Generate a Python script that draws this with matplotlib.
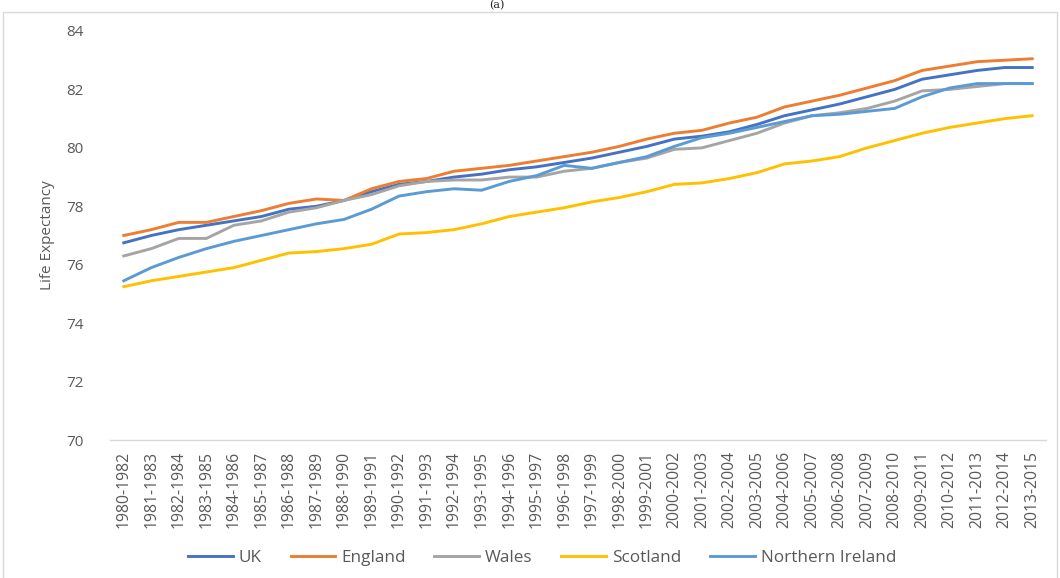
import matplotlib
matplotlib.use("Agg")
import matplotlib.pyplot as plt
from matplotlib.patches import Rectangle

periods = [f"{y}-{y+2}" for y in range(1980, 2014)]

uk = [76.75, 77.0, 77.2, 77.35, 77.5, 77.65, 77.9, 78.0, 78.2, 78.5,
      78.75, 78.85, 79.0, 79.1, 79.25, 79.35, 79.5, 79.65, 79.85, 80.05,
      80.3, 80.4, 80.55, 80.8, 81.1, 81.3, 81.5, 81.75, 82.0, 82.35,
      82.5, 82.65, 82.75, 82.75]
england = [77.0, 77.2, 77.45, 77.45, 77.65, 77.85, 78.1, 78.25, 78.2, 78.6,
           78.85, 78.95, 79.2, 79.3, 79.4, 79.55, 79.7, 79.85, 80.05, 80.3,
           80.5, 80.6, 80.85, 81.05, 81.4, 81.6, 81.8, 82.05, 82.3, 82.65,
           82.8, 82.95, 83.0, 83.05]
wales = [76.3, 76.55, 76.9, 76.9, 77.35, 77.5, 77.8, 77.95, 78.2, 78.4,
         78.7, 78.85, 78.9, 78.9, 79.0, 79.0, 79.2, 79.3, 79.5, 79.65,
         79.95, 80.0, 80.25, 80.5, 80.85, 81.1, 81.2, 81.35, 81.6, 81.95,
         82.0, 82.1, 82.2, 82.2]
scotland = [75.25, 75.45, 75.6, 75.75, 75.9, 76.15, 76.4, 76.45, 76.55, 76.7,
            77.05, 77.1, 77.2, 77.4, 77.65, 77.8, 77.95, 78.15, 78.3, 78.5,
            78.75, 78.8, 78.95, 79.15, 79.45, 79.55, 79.7, 80.0, 80.25, 80.5,
            80.7, 80.85, 81.0, 81.1]
n_ireland = [75.45, 75.9, 76.25, 76.55, 76.8, 77.0, 77.2, 77.4, 77.55, 77.9,
             78.35, 78.5, 78.6, 78.55, 78.85, 79.05, 79.4, 79.3, 79.5, 79.7,
             80.05, 80.35, 80.5, 80.7, 80.9, 81.1, 81.15, 81.25, 81.35, 81.75,
             82.05, 82.2, 82.2, 82.2]

series = [("UK", uk, "#4472C4"),
          ("England", england, "#ED7D31"),
          ("Wales", wales, "#A5A5A5"),
          ("Scotland", scotland, "#FFC000"),
          ("Northern Ireland", n_ireland, "#5B9BD5")]

yticks = [70, 72, 74, 76, 78, 80, 82, 84]

plt.rcParams['font.family'] = ['Open Sans', 'DejaVu Sans']
txt = "#595959"

fig = plt.figure(figsize=(10.6, 5.78), dpi=100)
ax = fig.add_axes([110/1060, 1-440/578, (1046-110)/1060, (440-31)/578])

x = list(range(len(periods)))
for name, vals, col in series:
    ax.plot(x, vals, color=col, lw=2.1, label=name, solid_joinstyle='round')

ax.set_xlim(-0.5, len(periods) - 0.5)
ax.set_ylim(70, 84)
ax.set_yticks(yticks)
ax.set_yticklabels([str(v) for v in yticks], fontsize=11, color=txt)
ax.set_xticks(x)
ax.set_xticklabels(periods, rotation=90, fontsize=11.3, color=txt)
ax.tick_params(axis='both', length=0)
ax.tick_params(axis='y', pad=19)
ax.tick_params(axis='x', pad=8)
for s in ['top', 'right', 'left']:
    ax.spines[s].set_visible(False)
ax.spines['bottom'].set_color('#D9D9D9')
ax.spines['bottom'].set_linewidth(1.0)

ax.set_ylabel("Life Expectancy", fontsize=11, color=txt, labelpad=8)

leg = fig.legend(loc='center', bbox_to_anchor=(542/1060, 1-558/578), ncol=5,
                 frameon=False, fontsize=12.3, handlelength=2.6, columnspacing=1.7,
                 handletextpad=0.35)
for t in leg.get_texts():
    t.set_color(txt)

fig.patches.append(Rectangle((3/1060, -0.01), (1057-3)/1060, 1-12/578 + 0.01,
                             transform=fig.transFigure, fill=False,
                             edgecolor='#D9D9D9', lw=1.0))
fig.text(497/1060, 1.0, "(a)", ha='center', va='top', fontsize=8,
         family='DejaVu Serif', color='#222222')

fig.savefig("out.png", dpi=100)
